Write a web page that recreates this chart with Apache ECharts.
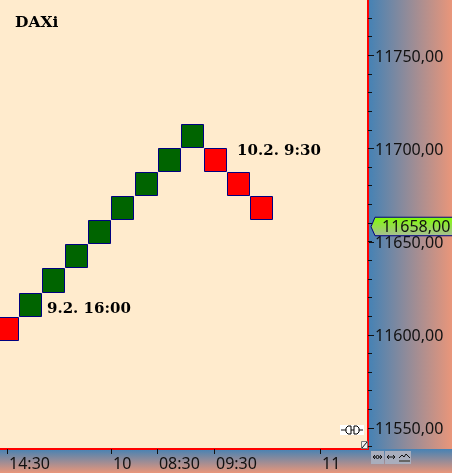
<!DOCTYPE html>
<html>
<head>
<meta charset="utf-8">
<style>html,body{margin:0;padding:0;background:#FFEBCD}#c{width:452px;height:473px}</style>
<script src="https://cdn.jsdelivr.net/npm/echarts@6/dist/echarts.min.js"></script>
</head>
<body>
<div id="c"></div>
<script>
const boxSlots  = [0,1,2,3,4,5,6,7,8,9,10,11];
const boxOpens  = [11609.6,11609.6,11622.4,11635.9,11648.7,11661.6,11674.5,11687.4,11700.26,11700.26,11687.4,11674.5];
const boxCloses = [11596.7,11622.4,11635.9,11648.7,11661.6,11674.5,11687.4,11700.26,11713.2,11687.4,11674.5,11661.6];
const priceTicks = [11540,11550,11560,11570,11580,11590,11600,11610,11620,11630,11640,11650,11660,11670,11680,11690,11700,11710,11720,11730,11740,11750,11760,11770];
const priceLabels = [11550,11600,11650,11700,11750];
const timeSlots = [-0.02,4.48,6.47,8.94,13.53];
const timeLabels = ['14:30','10','08:30','09:30','11'];
const lastPrice = 11658;
const noteSlots = [1.71,9.94];
const notePrices = [11613.8,11698.6];
const noteTexts = ['9.2. 16:00','10.2. 9:30'];
const chartTitle = 'DAXi';

const xMin = -0.325, xMax = 15.606, yMin = 11538.7, yMax = 11779.7;
const labelDrop = 1;
const fmtPrice = v => Number(v).toFixed(2).replace('.', ',');
const axisFont = '"Noto Sans", sans-serif';
const noteFont = '"DejaVu Serif", serif';

const chart = echarts.init(document.getElementById('c'), null, {renderer:'canvas'});
const panelV = new echarts.graphic.LinearGradient(0,0,0,1,[{offset:0,color:'#4682B4'},{offset:1,color:'#E9967A'}]);
const panelH = new echarts.graphic.LinearGradient(0,0,1,0,[{offset:0,color:'#4682B4'},{offset:1,color:'#E9967A'}]);
const btn = (x) => ({type:'rect',shape:{x:x,y:451,width:13,height:13},style:{fill:'#a9aebd'},z:5});
const glyph = (pts) => ({type:'polyline',shape:{points:pts},style:{stroke:'#111',fill:null,lineWidth:1},z:6});

chart.setOption({
  animation:false,
  backgroundColor:'#FFEBCD',
  title:{text:chartTitle,left:15,top:15,padding:0,textStyle:{fontFamily:noteFont,fontWeight:'bold',fontSize:15.5,color:'#000'}},
  grid:{left:0,right:84,top:0,bottom:24,show:true,backgroundColor:'#FFEBCD',borderWidth:0},
  xAxis:{
    type:'value',min:xMin,max:xMax,splitLine:{show:false},
    axisLine:{show:true,onZero:false,lineStyle:{color:'#FF0000',width:2}},
    axisTick:{show:true,length:5,inside:false,lineStyle:{color:'#111',width:1},customValues:timeSlots},
    axisLabel:{
      customValues:timeSlots,align:'left',margin:7,fontFamily:axisFont,fontSize:16,color:'#111',hideOverlap:false,
      showMinLabel:true,showMaxLabel:true,padding:[0,0,0,2],
      formatter:v=>{const i=timeSlots.findIndex(t=>Math.abs(t-v)<1e-6);return i>=0?timeLabels[i]:'';}
    }
  },
  yAxis:{
    type:'value',position:'right',min:yMin,max:yMax,splitLine:{show:false},
    axisLine:{show:true,onZero:false,lineStyle:{color:'#FF0000',width:2}},
    axisTick:{show:true,length:4,lineStyle:{color:'#111',width:1},customValues:priceTicks},
    axisLabel:{customValues:priceLabels.map(v=>v-labelDrop),margin:7,fontFamily:axisFont,fontSize:16,color:'#111',formatter:v=>fmtPrice(Math.round(v+labelDrop)),showMinLabel:true,showMaxLabel:true}
  },
  graphic:[
    {type:'rect',shape:{x:369,y:0,width:83,height:449},style:{fill:panelH},z:-10,silent:true},
    {type:'rect',shape:{x:0,y:449,width:452,height:24},style:{fill:panelV},z:-10,silent:true},
    btn(371),btn(385),btn(398),
    glyph([[373,457],[382,457]]),glyph([[375,455],[373,457],[375,459]]),glyph([[380,455],[382,457],[380,459]]),
    {type:'circle',shape:{cx:377.5,cy:457,r:1.5},style:{fill:'#a9aebd',stroke:'#111'},z:7},
    glyph([[387,457],[395,457]]),glyph([[389,455],[387,457],[389,459]]),glyph([[393,455],[395,457],[393,459]]),
    glyph([[399,458],[402,455],[404,457],[406,454],[410,458]]),
    {type:'rect',shape:{x:399,y:460,width:11,height:2},style:{fill:'#666'},z:6},
    {type:'rect',shape:{x:340,y:425,width:24,height:10},style:{fill:'#fff'},z:5},
    glyph([[341,430],[346,430]]),glyph([[359,430],[363,430]]),glyph([[351,430],[354,430]]),
    {type:'polygon',shape:{points:[[351,426],[348,426],[346,428],[346,432],[348,434],[351,434]]},style:{fill:'#fff',stroke:'#000'},z:6},
    {type:'polygon',shape:{points:[[354,426],[357,426],[359,428],[359,432],[357,434],[354,434]]},style:{fill:'#fff',stroke:'#000'},z:6},
    {type:'rect',shape:{x:361.5,y:441.5,width:6,height:7},style:{fill:'#eee',stroke:'#777'},z:5},
    glyph([[362,448],[367,442]])
  ],
  series:[
    {
      type:'custom',coordinateSystem:'cartesian2d',clip:true,z:3,
      encode:{x:0,y:[1,2]},
      data:boxSlots.map((s,i)=>[s,boxOpens[i],boxCloses[i]]),
      renderItem:(p,api)=>{
        const s=api.value(0),o=api.value(1),c=api.value(2);
        const w=api.size([1,0])[0];
        const a=api.coord([s,Math.max(o,c)]),b=api.coord([s,Math.min(o,c)]);
        const up=c>o;
        return {type:'rect',
          shape:{x:Math.round(a[0]-w/2)+0.5,y:Math.round(a[1])+0.5,width:Math.round(w)-1,height:Math.round(b[1]-a[1])-1},
          style:{fill:up?'#006400':'#FF0000',stroke:'#000080',lineWidth:1}};
      }
    },
    {
      type:'custom',coordinateSystem:'cartesian2d',clip:false,z:4,
      encode:{x:0,y:1},
      data:noteSlots.map((s,i)=>[s,notePrices[i]]),
      renderItem:(p,api)=>{
        const a=api.coord([api.value(0),api.value(1)]);
        return {type:'text',style:{x:a[0],y:a[1],text:noteTexts[p.dataIndex],font:'bold 15px '+noteFont,fill:'#000',textAlign:'left',textVerticalAlign:'middle'}};
      }
    },
    {
      type:'custom',coordinateSystem:'cartesian2d',clip:false,z:4,
      encode:{x:0,y:1},
      data:priceLabels.map(v=>[xMax,v]),
      renderItem:(p,api)=>{
        const a=api.coord([api.value(0),api.value(1)]);
        const y=Math.round(a[1])+0.5;
        return {type:'line',shape:{x1:a[0]+1,y1:y,x2:a[0]+6,y2:y},style:{stroke:'#111',lineWidth:1}};
      }
    },
    {
      type:'custom',coordinateSystem:'cartesian2d',clip:false,z:10,
      encode:{x:0,y:1},
      data:[[xMax,lastPrice]],
      renderItem:(p,api)=>{
        const a=api.coord([api.value(0),api.value(1)]);
        const x=a[0]+2,y=a[1];
        return {type:'group',children:[
          {type:'polygon',shape:{points:[[x+1,y],[x+5,y-9.5],[453,y-9.5],[453,y+9],[x+5,y+9]]},
            style:{fill:new echarts.graphic.LinearGradient(0,0,0,1,[{offset:0,color:'#80FF00'},{offset:1,color:'#A9BC98'}]),stroke:'#000080',lineWidth:1}},
          {type:'text',style:{x:x+12,y:y+1,text:fmtPrice(api.value(1)),font:'16px '+axisFont,fill:'#111',textAlign:'left',textVerticalAlign:'middle'}}
        ]};
      }
    }
  ]
});
</script>
</body>
</html>
